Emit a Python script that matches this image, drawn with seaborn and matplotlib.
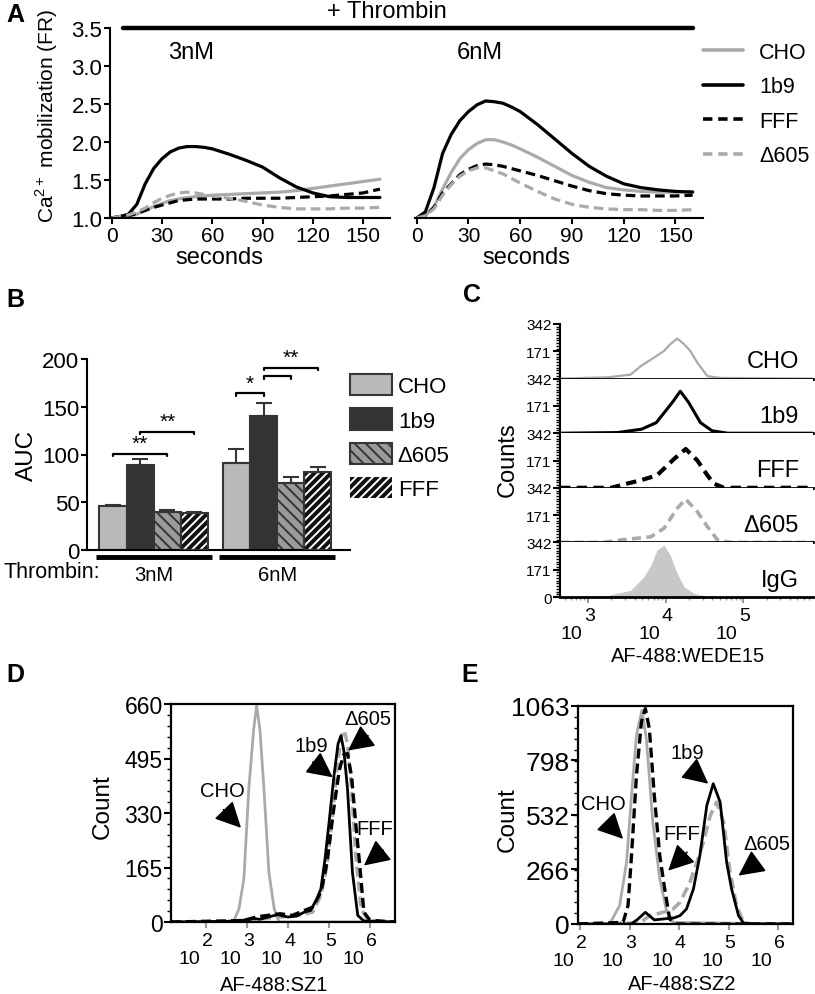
import matplotlib
matplotlib.use("Agg")
import numpy as np
import pandas as pd
import matplotlib.pyplot as plt
import seaborn as sns
from matplotlib.lines import Line2D
from matplotlib.patches import Patch, Rectangle
from matplotlib.ticker import MultipleLocator, NullFormatter
import matplotlib.transforms as mtrans

sns.set_theme(style="ticks")
plt.rcParams['font.family'] = ['Liberation Sans', 'DejaVu Sans']
plt.rcParams.update({
    'axes.linewidth': 1.5, 'axes.edgecolor': 'black',
    'xtick.major.width': 1.5, 'ytick.major.width': 1.5,
    'xtick.color': 'black', 'ytick.color': 'black',
    'text.color': 'black', 'axes.labelcolor': 'black',
    'hatch.linewidth': 1.4,
})

GRAY = '#aaaaaa'
DARK = '#353535'
W, H = 815, 995

# ---------------- data ----------------
# A: calcium traces (fold ratio vs seconds)
t_sec = [0, 5, 10, 15, 20, 25, 30, 35, 40, 45, 50, 55, 60, 70, 80, 90, 100, 110, 120, 130, 140, 150, 160]
a3_cho = [1.00, 1.01, 1.02, 1.05, 1.10, 1.15, 1.19, 1.23, 1.25, 1.27, 1.28, 1.29, 1.30, 1.31, 1.32, 1.33, 1.34, 1.36, 1.39, 1.42, 1.45, 1.48, 1.51]
a3_1b9 = [1.00, 1.02, 1.05, 1.18, 1.45, 1.65, 1.78, 1.87, 1.92, 1.94, 1.94, 1.93, 1.91, 1.84, 1.76, 1.67, 1.53, 1.41, 1.33, 1.28, 1.27, 1.27, 1.27]
a3_fff = [1.00, 1.02, 1.03, 1.06, 1.10, 1.14, 1.17, 1.20, 1.23, 1.24, 1.25, 1.25, 1.25, 1.25, 1.26, 1.26, 1.26, 1.27, 1.28, 1.29, 1.31, 1.33, 1.38]
a3_d605 = [1.00, 1.02, 1.04, 1.08, 1.13, 1.20, 1.26, 1.30, 1.33, 1.34, 1.33, 1.31, 1.29, 1.26, 1.22, 1.17, 1.14, 1.12, 1.12, 1.12, 1.13, 1.13, 1.14]
a6_cho = [1.00, 1.03, 1.15, 1.38, 1.60, 1.78, 1.90, 1.98, 2.03, 2.03, 2.00, 1.96, 1.91, 1.80, 1.68, 1.56, 1.47, 1.40, 1.37, 1.35, 1.34, 1.34, 1.35]
a6_1b9 = [1.00, 1.08, 1.40, 1.85, 2.10, 2.28, 2.40, 2.49, 2.54, 2.53, 2.51, 2.46, 2.40, 2.23, 2.04, 1.85, 1.68, 1.55, 1.45, 1.40, 1.37, 1.35, 1.34]
a6_fff = [1.00, 1.03, 1.14, 1.33, 1.45, 1.57, 1.64, 1.69, 1.71, 1.70, 1.68, 1.65, 1.62, 1.56, 1.49, 1.42, 1.36, 1.32, 1.30, 1.29, 1.29, 1.29, 1.30]
a6_d605 = [1.00, 1.03, 1.12, 1.30, 1.44, 1.55, 1.62, 1.66, 1.66, 1.62, 1.58, 1.52, 1.46, 1.35, 1.25, 1.18, 1.14, 1.12, 1.11, 1.11, 1.10, 1.10, 1.11]
a_cells = ['CHO', '1b9', 'FFF', 'Δ605']

# B: AUC bars
doses = ['3nM', '6nM']
b_cells = ['CHO', '1b9', 'Δ605', 'FFF']
auc_3 = [46, 89, 40, 39]
err_3 = [1, 6, 2, 1]
auc_6 = [91, 140, 70, 82]
err_6 = [15, 14, 6, 5]

# C: stacked histograms (log10 intensity, counts)
c_cho_x = [2.64, 3.25, 3.55, 3.68, 3.85, 3.98, 4.06, 4.15, 4.24, 4.32, 4.41, 4.54, 4.71, 5.9]
c_cho_y = [0, 8, 25, 78, 131, 173, 215, 251, 215, 173, 99, 15, 4, 0]
c_1b9_x = [2.64, 3.38, 3.69, 3.88, 4.0, 4.1, 4.19, 4.3, 4.45, 4.6, 4.8, 5.9]
c_1b9_y = [0, 4, 25, 66, 139, 201, 263, 191, 66, 15, 0, 0]
c_fff_x = [2.64, 3.3, 3.51, 3.68, 3.89, 4.11, 4.26, 4.41, 4.54, 4.62, 4.75, 5.9]
c_fff_y = [0, 0, 27, 47, 78, 181, 243, 171, 78, 27, 0, 0]
c_d605_x = [2.64, 3.2, 3.42, 3.81, 3.98, 4.15, 4.26, 4.41, 4.54, 4.67, 4.84, 5.9]
c_d605_y = [0, 0, 15, 35, 88, 213, 271, 192, 98, 15, 0, 0]
c_igg_x = [2.64, 3.0, 3.25, 3.55, 3.72, 3.81, 3.89, 3.98, 4.06, 4.15, 4.24, 4.37, 4.54, 4.71, 5.9]
c_igg_y = [0, 3, 10, 42, 126, 199, 294, 325, 262, 147, 63, 21, 6, 0, 0]

# D: SZ1 histograms
d_cho_x = [1.14, 2.66, 2.8, 2.92, 3.04, 3.16, 3.23, 3.31, 3.41, 3.53, 3.66, 3.78, 6.6]
d_cho_y = [0, 0, 40, 131, 403, 584, 655, 584, 403, 151, 40, 0, 0]
d_1b9_x = [1.14, 2.5, 2.9, 3.1, 3.3, 3.6, 3.75, 4.0, 4.2, 4.4, 4.55, 4.7, 4.8, 4.9, 5.0, 5.12, 5.22, 5.29, 5.36, 5.45, 5.57, 5.7, 5.85, 6.6]
d_1b9_y = [0, 2, 5, 12, 8, 18, 22, 15, 18, 30, 35, 70, 100, 190, 302, 443, 540, 564, 520, 403, 151, 20, 3, 0]
d_d605_x = [1.14, 3.0, 3.8, 4.3, 4.6, 4.8, 4.95, 5.08, 5.2, 5.3, 5.37, 5.45, 5.55, 5.65, 5.78, 5.95, 6.6]
d_d605_y = [0, 5, 15, 20, 30, 80, 170, 320, 470, 560, 580, 540, 400, 200, 40, 5, 0]
d_fff_x = [1.14, 2.5, 3.0, 3.2, 3.5, 3.8, 4.1, 4.4, 4.6, 4.8, 4.95, 5.1, 5.25, 5.35, 5.45, 5.55, 5.65, 5.75, 5.85, 6.0, 6.6]
d_fff_y = [0, 3, 5, 15, 20, 25, 20, 35, 45, 90, 180, 330, 460, 505, 510, 440, 300, 170, 30, 5, 0]

# E: SZ2 histograms
e_cho_x = [1.96, 2.6, 2.8, 2.94, 3.04, 3.14, 3.25, 3.34, 3.47, 3.61, 3.74, 3.88, 6.3]
e_cho_y = [0, 0, 90, 301, 627, 920, 1042, 903, 496, 220, 73, 8, 0]
e_fff_x = [1.96, 2.87, 2.97, 3.04, 3.14, 3.24, 3.32, 3.4, 3.5, 3.61, 3.71, 3.81, 3.95, 6.3]
e_fff_y = [0, 8, 90, 334, 724, 985, 1050, 952, 627, 334, 171, 24, 0, 0]
e_1b9_x = [1.96, 3.03, 3.15, 3.32, 3.5, 3.7, 3.9, 4.02, 4.15, 4.29, 4.42, 4.56, 4.69, 4.83, 4.96, 5.06, 5.2, 5.3, 5.5, 6.3]
e_1b9_y = [0, 0, 20, 57, 20, 25, 30, 41, 73, 171, 334, 578, 684, 594, 301, 171, 41, 5, 0, 0]
e_d605_x = [1.96, 3.2, 3.41, 3.68, 3.88, 4.02, 4.22, 4.36, 4.49, 4.63, 4.76, 4.9, 5.03, 5.16, 5.3, 5.45, 6.3]
e_d605_y = [0, 5, 41, 57, 73, 106, 203, 301, 399, 529, 594, 496, 252, 90, 8, 0, 0]

# arrow annotations: label, text (log x, y), tail (log x, y), tip (log x, y)
d_notes = [('CHO', (2.39, 398), (2.42, 340), (2.85, 285)),
           ('1b9', (4.56, 534), (4.6, 484), (5.09, 438)),
           ('Δ605', (5.95, 615), (5.95, 564), (5.46, 519)),
           ('FFF', (6.11, 282), (6.32, 217), (5.85, 171))]
e_notes = [('CHO', (2.47, 586), (2.54, 496), (2.87, 415)),
           ('FFF', (4.05, 440), (4.16, 350), (3.78, 260)),
           ('1b9', (4.16, 838), (4.22, 757), (4.59, 684)),
           ('Δ605', (5.77, 391), (5.57, 301), (5.2, 236))]

# ---------------- helpers ----------------
fig = plt.figure(figsize=(W / 100, H / 100), dpi=100)


def add_ax(l, t, r, b):
    return fig.add_axes([l / W, 1 - b / H, (r - l) / W, (b - t) / H])


def ftext(x, y, s, **kw):
    fig.text(x / W, 1 - y / H, s, **kw)


def pow_ticks(ax, exps, size):
    tr = ax.get_xaxis_transform()
    for e in exps:
        ax.annotate(str(e), xy=(10.0 ** e, 0), xycoords=tr, xytext=(1, -13),
                    textcoords='offset points', ha='center', va='center', fontsize=size)
        ax.annotate('10', xy=(10.0 ** e, 0), xycoords=tr, xytext=(-12, -26),
                    textcoords='offset points', ha='center', va='center', fontsize=size)


# ---------------- panel A ----------------
a_palette = {'CHO': GRAY, '1b9': 'black', 'FFF': 'black', 'Δ605': GRAY}
a_dashes = {'CHO': '', '1b9': '', 'FFF': (3, 1.6), 'Δ605': (3, 1.6)}
a_sets = [(a3_cho, a3_1b9, a3_fff, a3_d605), (a6_cho, a6_1b9, a6_fff, a6_d605)]
a_boxes = [(110, 29, 390, 219), (415, 29, 703, 219)]
for i, (series, bx) in enumerate(zip(a_sets, a_boxes)):
    ax = add_ax(*bx)
    df = pd.DataFrame({'t': t_sec * 4,
                       'ratio': sum([list(s) for s in series], []),
                       'cell': sum([[c] * len(t_sec) for c in a_cells], [])})
    sns.lineplot(data=df, x='t', y='ratio', hue='cell', style='cell', palette=a_palette,
                 dashes=a_dashes, linewidth=2.3, legend=False, ax=ax)
    ax.set_xlim(-1, 166)
    ax.set_ylim(1.0, 3.5)
    ax.set_xticks([0, 30, 60, 90, 120, 150])
    ax.set_xlabel('')
    ax.set_ylabel('')
    ax.tick_params(axis='x', labelsize=15, length=4, pad=1.5)
    ax.tick_params(axis='y', labelsize=16, length=4, pad=1.5)
    sns.despine(ax=ax)
    if i == 0:
        ax.set_yticks([1.0, 1.5, 2.0, 2.5, 3.0, 3.5])
        ax.set_yticklabels(['1.0', '1.5', '2.0', '2.5', '3.0', '3.5'])
    else:
        ax.spines['left'].set_visible(False)
        ax.set_yticks([])
    ax.text(0.288 if i == 0 else 0.226, 0.874, doses[i], transform=ax.transAxes,
            ha='center', va='center', fontsize=17)

ftext(219, 258, 'seconds', ha='center', va='center', fontsize=17)
ftext(526, 258, 'seconds', ha='center', va='center', fontsize=17)
ftext(47, 116, 'Ca$^{\\mathregular{2+}}$ mobilization (FR)', rotation=90,
      ha='center', va='center', fontsize=15)
ftext(387, 12, '+ Thrombin', ha='center', va='center', fontsize=17)
fig.add_artist(Line2D([123 / W, 693 / W], [1 - 29 / H, 1 - 29 / H], color='black', lw=3.2))
ftext(6, 15, 'A', ha='left', va='center', fontsize=18, fontweight='bold')

a_handles = [Line2D([], [], color=a_palette[c], lw=2.6,
                    ls='-' if a_dashes[c] == '' else (0, (2.6, 1.6))) for c in a_cells]
fig.legend(a_handles, a_cells, loc='upper left', bbox_to_anchor=(703 / W, 1 - 43 / H),
           frameon=False, fontsize=15.5, handlelength=1.86, handletextpad=0.75,
           labelspacing=0.62, borderpad=0, borderaxespad=0)

# ---------------- panel B ----------------
axb = add_ax(87, 360, 350, 551)
df_b = pd.DataFrame({'dose': [doses[0]] * 4 + [doses[1]] * 4,
                     'cell': b_cells * 2,
                     'auc': auc_3 + auc_6})
b_fill = ['#b9b9b9', '#333333', '#9a9a9a', '#111111']
sns.barplot(data=df_b, x='dose', y='auc', hue='cell', hue_order=b_cells,
            palette=b_fill, width=0.88, errorbar=None, saturation=1,
            edgecolor=DARK, linewidth=1.5, legend=False, ax=axb)
centers = {}
for h, cont in enumerate(axb.containers):
    for g, p in enumerate(cont):
        centers[(g, h)] = p.get_x() + p.get_width() / 2
        if h == 2:
            p.set_hatch('\\\\\\')
        if h == 3:
            p.set_hatch('////')
            p.set_edgecolor('white')
            p.set_linewidth(0)
            axb.add_patch(Rectangle(p.get_xy(), p.get_width(), p.get_height(),
                                    fill=False, ec=DARK, lw=1.5, zorder=3))
errs = [err_3, err_6]
vals = [auc_3, auc_6]
for g in range(2):
    xs = [centers[(g, h)] for h in range(4)]
    axb.errorbar(xs, vals[g], yerr=[[0] * 4, errs[g]], fmt='none', ecolor=DARK,
                 elinewidth=1.5, capsize=6, capthick=1.5, zorder=4)

brackets = [(0, 0, 2, 101, '**'), (0, 1, 3, 124, '**'),
            (1, 0, 1, 164, '*'), (1, 1, 2, 182, ''), (1, 1, 3, 191, '**')]
for g, h1, h2, y, s in brackets:
    x1, x2 = centers[(g, h1)], centers[(g, h2)]
    axb.plot([x1, x1, x2, x2], [y - 3, y, y, y - 3], color='black', lw=1.6, clip_on=False)
    if s:
        axb.text((x1 + x2) / 2, y + 1, s, ha='center', va='bottom', fontsize=15)

axb.set_xlim(-0.54, 1.59)
axb.set_ylim(0, 200)
axb.set_yticks([0, 50, 100, 150, 200])
axb.set_xticks([])
axb.set_xlabel('')
axb.set_ylabel('AUC', fontsize=17.5, labelpad=3)
axb.tick_params(axis='y', labelsize=16, length=4, pad=1.5)
sns.despine(ax=axb)
btr = mtrans.blended_transform_factory(axb.transData, axb.transAxes)
for g in range(2):
    axb.plot([g - 0.47, g + 0.47], [-0.037, -0.037], transform=btr, color='black',
             lw=3.5, clip_on=False, solid_capstyle='butt')
    axb.text(g, -0.126, doses[g], transform=btr, ha='center', va='center', fontsize=14.5)
ftext(3, 573, 'Thrombin:', ha='left', va='center', fontsize=15.5)
ftext(6, 300, 'B', ha='left', va='center', fontsize=18, fontweight='bold')

b_handles = [Patch(facecolor=b_fill[0], edgecolor=DARK, lw=1.5),
             Patch(facecolor=b_fill[1], edgecolor=DARK, lw=1.5),
             Patch(facecolor=b_fill[2], edgecolor=DARK, lw=1.5, hatch='\\\\\\'),
             Patch(facecolor=b_fill[3], edgecolor='white', lw=0, hatch='////')]
fig.legend(b_handles, b_cells, loc='upper left', bbox_to_anchor=(350 / W, 1 - 375 / H),
           frameon=False, fontsize=16, handlelength=1.9, handleheight=1.1,
           handletextpad=0.25, labelspacing=0.5, borderpad=0, borderaxespad=0)

# ---------------- panel C ----------------
c_sets = [('CHO', c_cho_x, c_cho_y, GRAY, '-', 1.6),
          ('1b9', c_1b9_x, c_1b9_y, 'black', '-', 2.2),
          ('FFF', c_fff_x, c_fff_y, 'black', (0, (2.5, 1.5)), 3.0),
          ('Δ605', c_d605_x, c_d605_y, GRAY, (0, (2.5, 1.5)), 2.6),
          ('IgG', c_igg_x, c_igg_y, '#c8c8c8', 'fill', 1.0)]
band_h = (598 - 325) / 5
for i, (name, xs, ys, col, ls, lw) in enumerate(c_sets):
    top = 325 + i * band_h
    ax = add_ax(560, top, 813, top + band_h)
    xv = 10.0 ** np.array(xs)
    if ls == 'fill':
        ax.fill_between(xv, 0, ys, color=col, lw=0)
    else:
        sns.lineplot(x=xv, y=ys, ax=ax, color=col, lw=lw, linestyle=ls)
    ax.set_xscale('log')
    ax.set_xlim(10 ** 2.64, 10 ** 5.9)
    ax.set_ylim(0, 342)
    sns.despine(ax=ax)
    ax.spines['bottom'].set_linewidth(2)
    ax.set_yticks([0, 171, 342] if i == 4 else [171, 342])
    ax.yaxis.set_minor_locator(MultipleLocator(17.1))
    ax.tick_params(axis='y', which='major', labelsize=11, length=5, pad=1)
    ax.tick_params(axis='y', which='minor', length=3, width=1)
    ax.text(0.945, 0.32, name, transform=ax.transAxes, ha='right', va='center', fontsize=17)
    if i < 4:
        ax.tick_params(axis='x', which='both', bottom=False, labelbottom=False)
    else:
        ax.set_xticks([1e3, 1e4, 1e5])
        ax.xaxis.set_major_formatter(NullFormatter())
        ax.xaxis.set_minor_formatter(NullFormatter())
        ax.tick_params(axis='x', which='major', length=4, color='#999999')
        ax.tick_params(axis='x', which='minor', length=2.5, color='#999999')
        pow_ticks(ax, [3, 4, 5], 14)
ftext(508, 460, 'Counts', rotation=90, ha='center', va='center', fontsize=17)
ftext(688, 656, 'AF-488:WEDE15', ha='center', va='center', fontsize=14.5)
ftext(463, 295, 'C', ha='left', va='center', fontsize=18, fontweight='bold')


# ---------------- panels D and E ----------------
def flow_panel(box, sets, notes, ymax, yt, tsize, xlim, exps, xlabel, xlab_pos, ylab_pos):
    ax = add_ax(*box)
    for xs, ys, col, ls, lw in sets:
        sns.lineplot(x=10.0 ** np.array(xs), y=ys, ax=ax, color=col, lw=lw, linestyle=ls)
    ax.set_xscale('log')
    ax.set_xlim(10 ** xlim[0], 10 ** xlim[1])
    ax.set_ylim(0, ymax)
    ax.set_yticks(yt)
    ax.yaxis.set_minor_locator(MultipleLocator(ymax / 20))
    ax.tick_params(axis='y', which='major', labelsize=tsize, length=5, pad=1)
    ax.tick_params(axis='y', which='minor', length=3, width=1)
    ax.set_xticks([10.0 ** e for e in exps])
    ax.xaxis.set_major_formatter(NullFormatter())
    ax.xaxis.set_minor_formatter(NullFormatter())
    ax.tick_params(axis='x', which='major', length=4, color='#999999')
    ax.tick_params(axis='x', which='minor', length=3, color='#999999')
    for sp in ax.spines.values():
        sp.set_linewidth(1.6)
    pow_ticks(ax, exps, 14)
    for label, txt, tail, tip in notes:
        ax.annotate('', xy=(10 ** tip[0], tip[1]), xytext=(10 ** tail[0], tail[1]),
                    arrowprops=dict(arrowstyle='-|>,head_length=0.8,head_width=0.4',
                                    color='black', lw=1.2, mutation_scale=20,
                                    shrinkA=0, shrinkB=0))
        ax.text(10 ** txt[0], txt[1], label, ha='center', va='center', fontsize=14.5)
    ftext(*xlab_pos, xlabel, ha='center', va='center', fontsize=14.5)
    ftext(*ylab_pos, 'Count', rotation=90, ha='center', va='center', fontsize=17.5)
    return ax


dash = (0, (3, 1.5))
flow_panel((171, 705, 395, 923),
           [(d_cho_x, d_cho_y, GRAY, '-', 2.0), (d_d605_x, d_d605_y, GRAY, dash, 2.4),
            (d_fff_x, d_fff_y, 'black', dash, 2.4), (d_1b9_x, d_1b9_y, 'black', '-', 2.0)],
           d_notes, 660, [0, 165, 330, 495, 660], 16.5, (1.14, 6.61), [2, 3, 4, 5, 6],
           'AF-488:SZ1', (274, 986), (103, 807))
flow_panel((578, 707, 793, 925),
           [(e_cho_x, e_cho_y, GRAY, '-', 2.0), (e_d605_x, e_d605_y, GRAY, dash, 2.6),
            (e_fff_x, e_fff_y, 'black', dash, 2.4), (e_1b9_x, e_1b9_y, 'black', '-', 2.0)],
           e_notes, 1063, [0, 266, 532, 798, 1063], 19, (1.96, 6.3), [2, 3, 4, 5, 6],
           'AF-488:SZ2', (682, 985), (508, 820))
ftext(6, 675, 'D', ha='left', va='center', fontsize=18, fontweight='bold')
ftext(461, 675, 'E', ha='left', va='center', fontsize=18, fontweight='bold')

fig.savefig('out.png', dpi=100)
